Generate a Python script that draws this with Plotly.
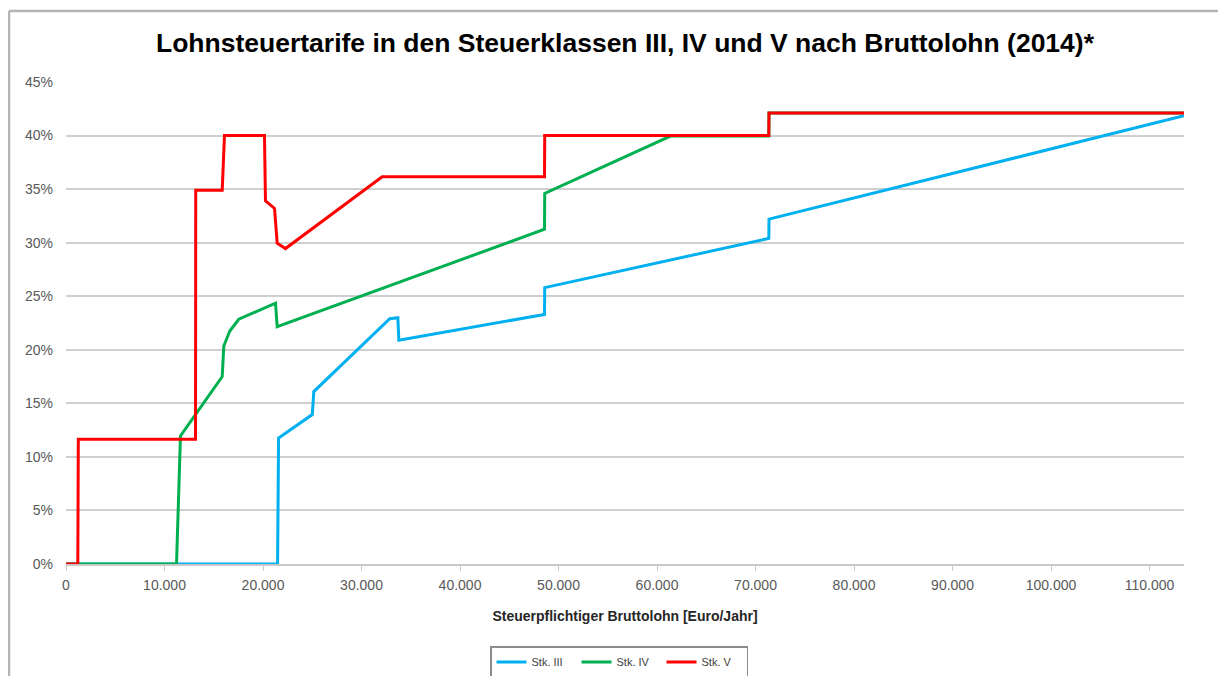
import plotly.graph_objects as go

# Stk. III (Steuerklasse III)
x_iii = [0, 21480, 21580, 25000, 25160, 32870, 33690, 33790, 48580, 48600, 71350, 71370, 113500]
y_iii = [0, 0, 11.75, 13.95, 16.1, 22.9, 23.0, 20.9, 23.3, 25.8, 30.4, 32.2, 41.85]

# Stk. IV (Steuerklasse IV)
x_iv = [0, 11220, 11620, 15860, 16020, 16630, 17540, 21270, 21440, 48580, 48600, 61370, 71350, 71370, 113500]
y_iv = [0, 0, 11.95, 17.5, 20.35, 21.75, 22.85, 24.35, 22.15, 31.25, 34.6, 39.95, 39.95, 42.1, 42.1]

# Stk. V (Steuerklasse V)
x_v = [0, 1200, 1250, 13150, 13170, 15860, 16090, 20150, 20250, 21170, 21440, 22280, 32100, 48580, 48600, 71350, 71370, 113500]
y_v = [0, 0, 11.65, 11.65, 34.9, 34.9, 40.0, 40.0, 33.9, 33.2, 29.95, 29.45, 36.15, 36.15, 40.0, 40.0, 42.1, 42.1]

names = ["Stk. III", "Stk. IV", "Stk. V"]
colors = ["#00B0F0", "#00B050", "#FF0000"]

x_ticks = list(range(0, 110001, 10000))
x_ticktext = ["{:,}".format(v).replace(",", ".") for v in x_ticks]
y_ticks = list(range(0, 46, 5))
y_ticktext = [f"{v}%" for v in y_ticks]

title = "Lohnsteuertarife in den Steuerklassen III, IV und V nach Bruttolohn (2014)*"
x_title = "Steuerpflichtiger Bruttolohn [Euro/Jahr]"

# The page body has an 8px default margin; the figure is sized/offset to compensate.
OFF = 8
W, H = 1226 - OFF, 676 - OFF
ML, MR, MT, MB = 66 - OFF, 42, 82 - OFF, 112
PW, PH = W - ML - MR, H - MT - MB

fig = go.Figure()
for xs, ys, n, c in zip([x_iii, x_iv, x_v], [y_iii, y_iv, y_v], names, colors):
    fig.add_trace(go.Scatter(x=xs, y=ys, mode="lines", name=n,
                             line=dict(color=c, width=3)))

def px_x(p):
    # p = page pixel
    return (p - OFF - ML) / PW

def px_y(p):
    return (H - MB - (p - OFF)) / PH

border = "#b4b4b4"
fig.add_shape(type="line", xref="paper", yref="paper",
              x0=px_x(9), x1=px_x(9), y0=px_y(11), y1=px_y(690),
              line=dict(color=border, width=2.5))
fig.add_shape(type="line", xref="paper", yref="paper",
              x0=px_x(9), x1=px_x(1240), y0=px_y(11), y1=px_y(11),
              line=dict(color=border, width=2.5))

fig.update_layout(
    width=W, height=H,
    margin=dict(l=ML, r=MR, t=MT, b=MB, autoexpand=False),
    paper_bgcolor="white", plot_bgcolor="white",
    title=dict(text=f"<b>{title}</b>", x=(625 - OFF) / W, xanchor="center",
               y=1 - (43 - OFF) / H, yanchor="middle",
               font=dict(family="Liberation Sans Narrow, Arial Narrow, Liberation Sans, sans-serif",
                         size=26.5, color="#000000")),
    showlegend=True,
    legend=dict(orientation="h", x=px_x(490), xanchor="left",
                y=px_y(646), yanchor="top",
                bordercolor="#8c8c8c", borderwidth=1.5,
                font=dict(family="Liberation Sans, Arial, sans-serif", size=11, color="#404040"),
                entrywidth=40, entrywidthmode="pixels",
                itemwidth=30, tracegroupgap=0),
    xaxis=dict(range=[0, 113500], tickvals=x_ticks, ticktext=x_ticktext,
               automargin=False,
               showgrid=False, zeroline=False,
               showline=True, linecolor="#c8c8c8", linewidth=1.5,
               ticks="outside", ticklen=5, tickcolor="#c8c8c8",
               ticklabelstandoff=2,
               tickfont=dict(family="Liberation Sans, Arial, sans-serif", size=14, color="#595959"),
               title=dict(text=f"<b>{x_title}</b>", standoff=20,
                          font=dict(family="Liberation Sans, Arial, sans-serif", size=14, color="#262626"))),
    yaxis=dict(range=[0, 45], tickvals=y_ticks, ticktext=y_ticktext,
               automargin=False,
               showgrid=True, gridcolor="#cfcfcf", gridwidth=1.5,
               zeroline=False, showline=False, ticks="",
               ticklabelstandoff=12,
               tickfont=dict(family="Liberation Sans, Arial, sans-serif", size=14, color="#595959")),
)

fig.write_html("out.html")
